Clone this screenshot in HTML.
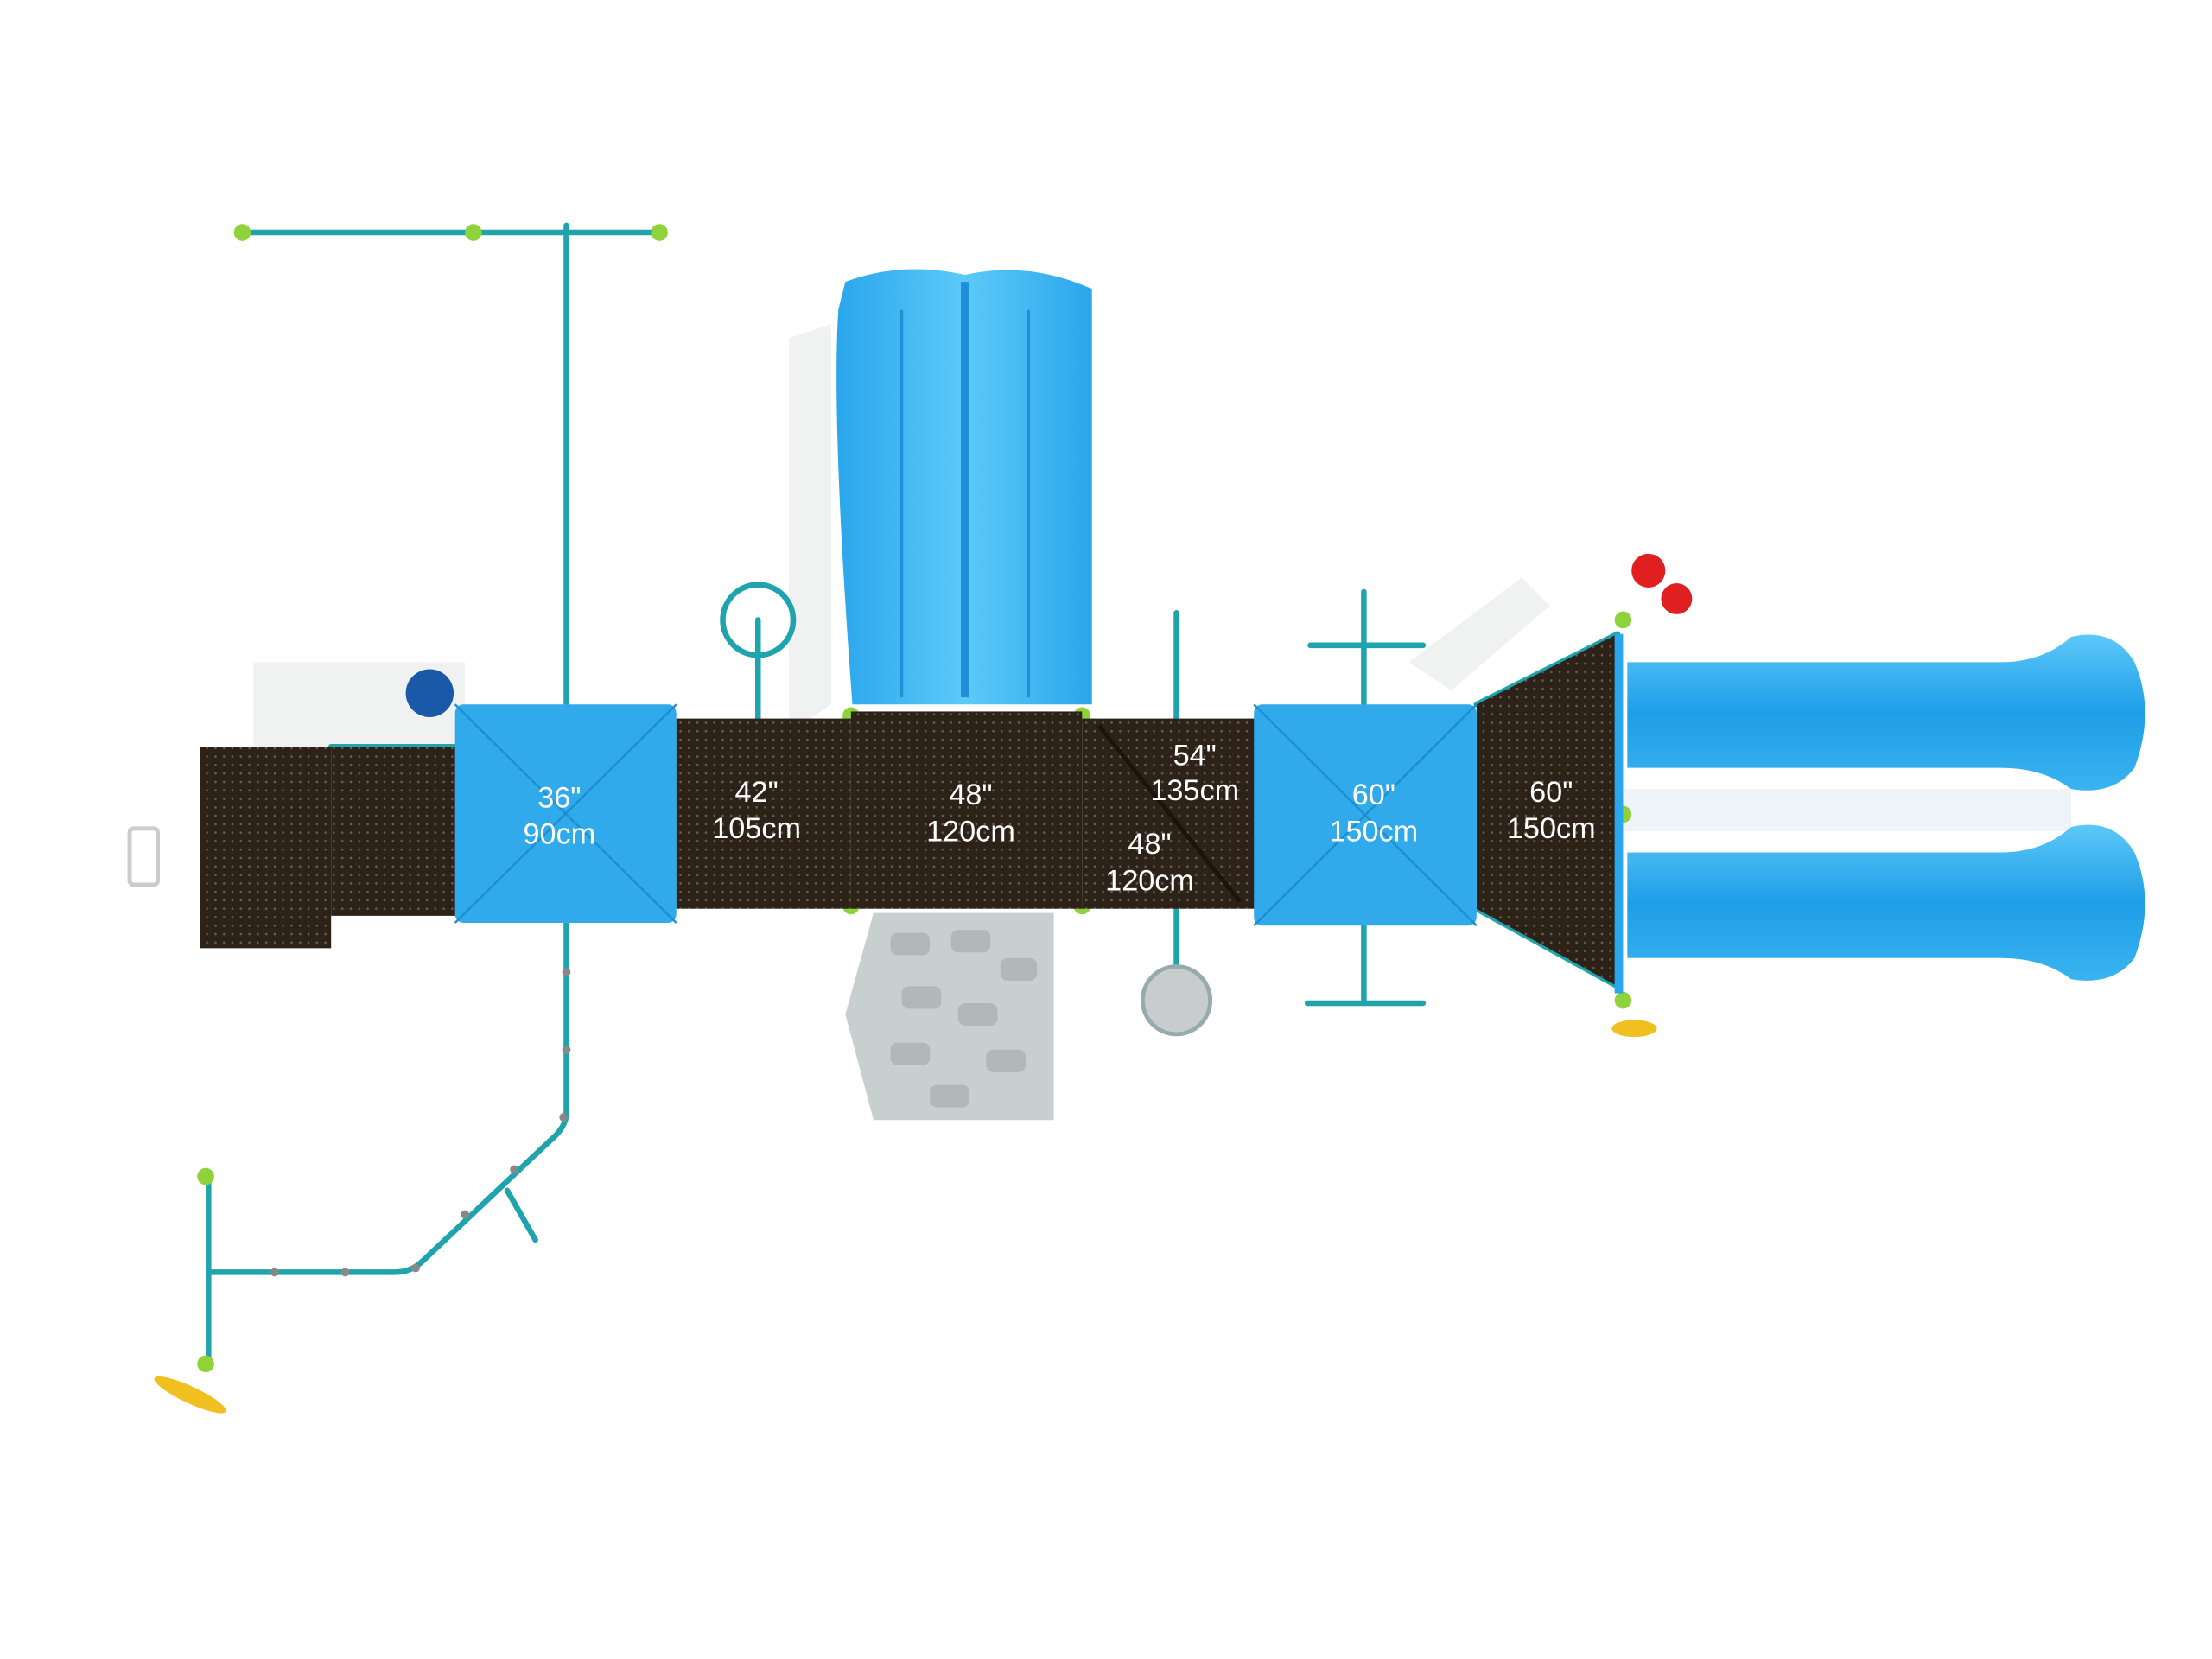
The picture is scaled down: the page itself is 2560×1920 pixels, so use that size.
<!DOCTYPE html>
<html><head><meta charset="utf-8"><style>
html,body{margin:0;padding:0;background:#fff;width:2560px;height:1920px;overflow:hidden}
svg{display:block}
text{font-family:"Liberation Sans",sans-serif;fill:#fff;font-size:21px;text-anchor:middle}
</style></head><body>
<svg width="2560" height="1920" viewBox="0 0 1570 1177.5" xmlns="http://www.w3.org/2000/svg">
<defs>
<linearGradient id="sl" x1="0" y1="0" x2="0" y2="1"><stop offset="0" stop-color="#5cc8f8"/><stop offset="0.5" stop-color="#1e9ee8"/><stop offset="1" stop-color="#3ab4f0"/></linearGradient>
<linearGradient id="sv" x1="0" y1="0" x2="1" y2="0"><stop offset="0" stop-color="#2aa6ec"/><stop offset="0.5" stop-color="#5ccaf8"/><stop offset="1" stop-color="#2aa6ec"/></linearGradient>
<pattern id="dots" width="6" height="6" patternUnits="userSpaceOnUse"><rect width="6" height="6" fill="#2c2218"/><circle cx="3" cy="3" r="0.8" fill="#6a5e50"/></pattern>
</defs>
<g fill="#f0f2f2">
<polygon points="560,240 590,230 590,500 560,520"/>
<rect x="180" y="470" width="150" height="60"/>
<polygon points="1000,470 1080,410 1100,430 1030,490"/>
<rect x="1150" y="560" width="320" height="30" fill="#eef4f8"/>
</g>
<g stroke="#1fa3ad" stroke-width="4" fill="none" stroke-linecap="round">
<line x1="170" y1="165" x2="470" y2="165"/>
<line x1="402" y1="160" x2="402" y2="500"/>
<line x1="402" y1="655" x2="402" y2="790"/>
<path d="M402,790 Q402,800 390,810 L300,895 Q292,903 280,903 L148,903"/>
<line x1="148" y1="835" x2="148" y2="970"/>
<line x1="360" y1="845" x2="380" y2="880"/>
<line x1="538" y1="440" x2="538" y2="510"/>
<circle cx="538" cy="440" r="25"/>
<line x1="835" y1="435" x2="835" y2="510"/>
<line x1="835" y1="645" x2="835" y2="710"/>
<line x1="968" y1="420" x2="968" y2="500"/>
<line x1="930" y1="458" x2="1010" y2="458"/>
<line x1="968" y1="657" x2="968" y2="712"/>
<line x1="928" y1="712" x2="1010" y2="712"/>
<line x1="235" y1="530" x2="325" y2="530"/>
<line x1="1048" y1="500" x2="1148" y2="450"/>
<line x1="1048" y1="645" x2="1148" y2="700"/>
</g>
<g fill="#8fd23a"><circle cx="172" cy="165" r="6"/><circle cx="336" cy="165" r="6"/><circle cx="468" cy="165" r="6"/><circle cx="146" cy="835" r="6"/><circle cx="146" cy="968" r="6"/><circle cx="604" cy="508" r="6"/><circle cx="604" cy="643" r="6"/><circle cx="768" cy="508" r="6"/><circle cx="768" cy="643" r="6"/><circle cx="1152" cy="440" r="6"/><circle cx="1152" cy="578" r="6"/><circle cx="1152" cy="710" r="6"/></g>
<g fill="#888"><circle cx="195" cy="903" r="3"/><circle cx="245" cy="903" r="3"/><circle cx="295" cy="900" r="3"/><circle cx="330" cy="862" r="3"/><circle cx="365" cy="830" r="3"/><circle cx="400" cy="793" r="3"/><circle cx="402" cy="745" r="3"/><circle cx="402" cy="690" r="3"/></g>
<circle cx="305" cy="492" r="17" fill="#1a58a8"/>
<circle cx="1170" cy="405" r="12" fill="#e02020"/><circle cx="1190" cy="425" r="11" fill="#e02020"/>
<ellipse cx="1160" cy="730" rx="16" ry="6" fill="#f0c020"/>
<ellipse cx="135" cy="990" rx="28" ry="6" fill="#f0c020" transform="rotate(25 135 990)"/>
<circle cx="835" cy="710" r="24" fill="#c8cccc" stroke="#9aa" stroke-width="3"/>
<rect x="92" y="588" width="20" height="40" rx="3" fill="none" stroke="#ccc" stroke-width="3"/>
<polygon points="620,648 748,648 748,795 620,795 600,720" fill="#c8cfcf"/>
<g fill="#b0b8b8"><rect x="632" y="662" width="28" height="16" rx="5"/><rect x="675" y="660" width="28" height="16" rx="5"/><rect x="710" y="680" width="26" height="16" rx="5"/><rect x="640" y="700" width="28" height="16" rx="5"/><rect x="680" y="712" width="28" height="16" rx="5"/><rect x="632" y="740" width="28" height="16" rx="5"/><rect x="700" y="745" width="28" height="16" rx="5"/><rect x="660" y="770" width="28" height="16" rx="5"/></g>
<path d="M600,200 Q640,185 685,195 Q730,185 775,205 L775,500 L605,500 Q590,300 595,220 Z" fill="url(#sv)"/>
<line x1="685" y1="200" x2="685" y2="495" stroke="#1e8fd8" stroke-width="6"/>
<line x1="640" y1="220" x2="640" y2="495" stroke="#1e8fd8" stroke-width="2"/>
<line x1="730" y1="220" x2="730" y2="495" stroke="#1e8fd8" stroke-width="2"/>
<rect x="142" y="530" width="93" height="143" fill="url(#dots)"/>
<rect x="235" y="530" width="90" height="120" fill="url(#dots)"/>
<rect x="480" y="510" width="124" height="135" fill="url(#dots)"/>
<rect x="604" y="505" width="164" height="140" fill="url(#dots)"/>
<rect x="768" y="510" width="124" height="135" fill="url(#dots)"/>
<line x1="780" y1="515" x2="880" y2="640" stroke="#1a140e" stroke-width="3"/>
<polygon points="1048,500 1148,450 1148,700 1048,645" fill="url(#dots)"/>
<rect x="1146" y="450" width="6" height="255" fill="#2aa6ec"/>
<rect x="323" y="500" width="157" height="155" rx="6" fill="#30aaea"/>
<path d="M323,500 L480,655 M480,500 L323,655" stroke="#1e8ed0" stroke-width="1.5"/>
<rect x="890" y="500" width="158" height="157" rx="6" fill="#30aaea"/>
<path d="M890,500 L1048,657 M1048,500 L890,657" stroke="#1e8ed0" stroke-width="1.5"/>
<path d="M1155,470 L1420,470 Q1450,470 1470,452 Q1500,445 1515,470 Q1530,505 1515,545 Q1500,565 1470,560 Q1450,545 1420,545 L1155,545 Z" fill="url(#sl)"/>
<path d="M1155,605 L1420,605 Q1450,605 1470,587 Q1500,580 1515,605 Q1530,640 1515,680 Q1500,700 1470,695 Q1450,680 1420,680 L1155,680 Z" fill="url(#sl)"/>
<text x="397" y="573">36"</text><text x="397" y="599">90cm</text>
<text x="537" y="569">42"</text><text x="537" y="595">105cm</text>
<text x="689" y="571">48"</text><text x="689" y="597">120cm</text>
<text x="848" y="543">54"</text><text x="848" y="568">135cm</text>
<text x="816" y="606">48"</text><text x="816" y="632">120cm</text>
<text x="975" y="571">60"</text><text x="975" y="597">150cm</text>
<text x="1101" y="569">60"</text><text x="1101" y="595">150cm</text>
</svg>
</body></html>
